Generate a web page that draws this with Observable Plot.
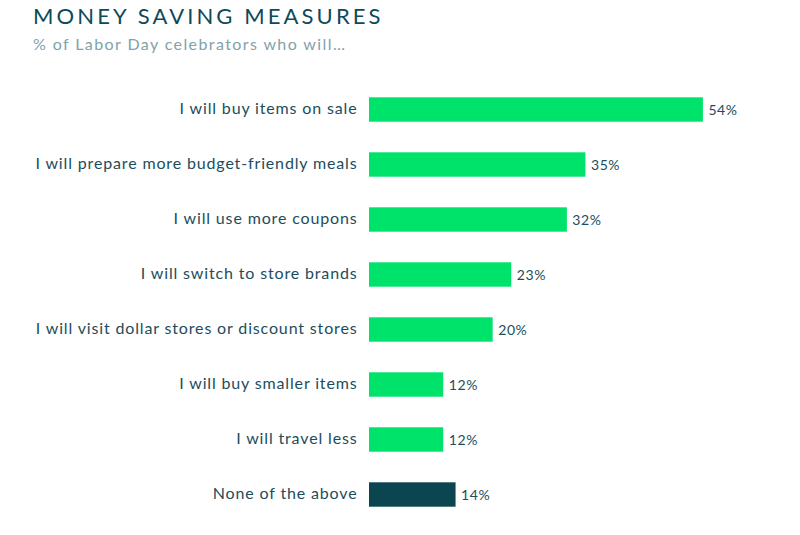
<!DOCTYPE html>
<html>
<head>
<meta charset="utf-8">
<script src="https://cdn.jsdelivr.net/npm/d3@7"></script>
<script src="https://cdn.jsdelivr.net/npm/@observablehq/plot@0.6"></script>
<style>
  body { margin: 0; background: #fff; font-family: Lato, "Open Sans", sans-serif; }
  #header { height: 64px; padding-left: 33px; box-sizing: border-box; }
  #title { font-size: 22px; line-height: 26px; padding-top: 3px; color: #0d4a5a; letter-spacing: 3.1px; }
  #subtitle { font-size: 16px; line-height: 22px; margin-top: 4px; color: #7fa2ab; letter-spacing: 1.4px; }
  #chart svg g[aria-label="y-axis tick label"] text { letter-spacing: 0.85px; }
</style>
</head>
<body>
<div id="header">
  <div id="title">MONEY SAVING MEASURES</div>
  <div id="subtitle">% of Labor Day celebrators who will…</div>
</div>
<div id="chart"></div>
<script>
const categories = [
  "I will buy items on sale",
  "I will prepare more budget-friendly meals",
  "I will use more coupons",
  "I will switch to store brands",
  "I will visit dollar stores or discount stores",
  "I will buy smaller items",
  "I will travel less",
  "None of the above"
];
const values = [54, 35, 32, 23, 20, 12, 12, 14];
const groups = ["measure", "measure", "measure", "measure", "measure", "measure", "measure", "none"];

const data = categories.map((c, i) => ({category: c, value: values[i], group: groups[i]}));

const chart = Plot.plot({
  width: 800,
  height: 471,
  marginLeft: 369,
  marginRight: 60,
  marginTop: 15,
  marginBottom: 10,
  style: {fontFamily: "Lato, 'Open Sans', sans-serif", color: "#1d4d5c"},
  x: {domain: [0, 60], axis: null},
  y: {domain: categories, padding: 0, label: null},
  color: {domain: ["measure", "none"], range: ["#00e36b", "#0b4650"]},
  marks: [
    Plot.barX(data, {x: "value", y: "category", fill: "group", insetTop: 15.3, insetBottom: 15.3}),
    Plot.text(data, {x: "value", y: "category", text: d => d.value + "%", textAnchor: "start", dx: 5, dy: 1, fontSize: 14, fill: "#1d4d5c"}),
    Plot.axisY({tickSize: 0, tickPadding: 12, fontSize: 16, dy: -1.5, label: null})
  ]
});
chart.querySelectorAll('g[aria-label="text"] text').forEach(t => t.style.letterSpacing = "0.6px");
document.getElementById("chart").appendChild(chart);
</script>
</body>
</html>
